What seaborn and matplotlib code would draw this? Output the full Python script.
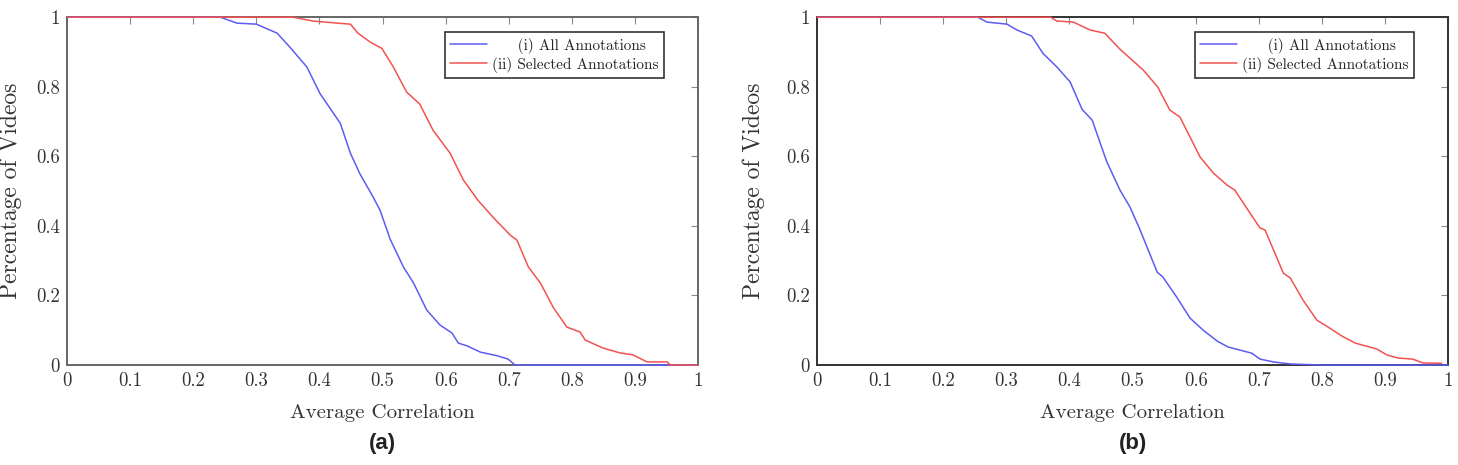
import matplotlib
matplotlib.use("Agg")
import matplotlib.pyplot as plt
import seaborn as sns
import pandas as pd

# curves: (average correlation, fraction of videos)
a_all_x = [0.0, 0.243, 0.269, 0.30, 0.333, 0.353, 0.38, 0.401, 0.433, 0.449, 0.464, 0.485,
           0.496, 0.512, 0.533, 0.549, 0.57, 0.591, 0.61, 0.62, 0.634, 0.655, 0.681, 0.699, 0.71, 1.0]
a_all_y = [1.0, 1.0, 0.983, 0.98, 0.954, 0.914, 0.857, 0.78, 0.695, 0.609, 0.55, 0.483,
           0.445, 0.362, 0.282, 0.236, 0.158, 0.115, 0.092, 0.063, 0.055, 0.037, 0.027, 0.017, 0.0, 0.0]
a_sel_x = [0.0, 0.358, 0.39, 0.428, 0.449, 0.461, 0.48, 0.499, 0.517, 0.538, 0.559, 0.58,
           0.607, 0.628, 0.651, 0.675, 0.702, 0.713, 0.731, 0.75, 0.771, 0.792, 0.813, 0.821,
           0.849, 0.876, 0.897, 0.919, 0.951, 0.956, 1.0]
a_sel_y = [1.0, 1.0, 0.989, 0.983, 0.98, 0.954, 0.929, 0.91, 0.857, 0.785, 0.75, 0.675,
           0.609, 0.532, 0.474, 0.425, 0.374, 0.359, 0.282, 0.236, 0.164, 0.109, 0.095, 0.072,
           0.049, 0.035, 0.029, 0.009, 0.009, 0.0, 0.0]
b_all_x = [0.0, 0.255, 0.269, 0.301, 0.317, 0.34, 0.358, 0.38, 0.401, 0.42, 0.436, 0.459,
           0.48, 0.496, 0.512, 0.539, 0.548, 0.57, 0.591, 0.612, 0.634, 0.651, 0.689, 0.702,
           0.723, 0.75, 0.8, 1.0]
b_all_y = [1.0, 1.0, 0.986, 0.98, 0.963, 0.946, 0.896, 0.857, 0.814, 0.735, 0.704, 0.585,
           0.503, 0.454, 0.388, 0.267, 0.253, 0.195, 0.135, 0.1, 0.069, 0.052, 0.034, 0.017,
           0.009, 0.003, 0.0, 0.0]
b_sel_x = [0.0, 0.37, 0.38, 0.406, 0.433, 0.456, 0.48, 0.517, 0.54, 0.559, 0.575, 0.607,
           0.628, 0.65, 0.662, 0.686, 0.702, 0.71, 0.739, 0.75, 0.77, 0.792, 0.81, 0.832,
           0.853, 0.887, 0.903, 0.921, 0.944, 0.96, 0.99]
b_sel_y = [1.0, 1.0, 0.989, 0.986, 0.963, 0.954, 0.908, 0.848, 0.799, 0.733, 0.713, 0.598,
           0.552, 0.517, 0.503, 0.437, 0.394, 0.388, 0.264, 0.25, 0.187, 0.129, 0.109, 0.083,
           0.063, 0.046, 0.029, 0.02, 0.017, 0.006, 0.005]

series_labels = ["     (i) All Annotations", "(ii) Selected Annotations"]
panel_names = ["(a)", "(b)"]
x_ticks = [0, 0.1, 0.2, 0.3, 0.4, 0.5, 0.6, 0.7, 0.8, 0.9, 1]
x_ticklabels = ["0", "0.1", "0.2", "0.3", "0.4", "0.5", "0.6", "0.7", "0.8", "0.9", "1"]
y_ticks = [0, 0.2, 0.4, 0.6, 0.8, 1]
y_ticklabels = ["0", "0.2", "0.4", "0.6", "0.8", "1"]

sns.set_style("white")
plt.rcParams["font.family"] = ["cmr10", "DejaVu Serif"]
plt.rcParams["axes.formatter.use_mathtext"] = True

fig = plt.figure(figsize=(14.58, 4.65), dpi=100)
axes = [fig.add_axes([0.046, 0.215, 0.4328, 0.748]),
        fig.add_axes([0.5604, 0.215, 0.4328, 0.748])]

panels = [(a_all_x, a_all_y, a_sel_x, a_sel_y), (b_all_x, b_all_y, b_sel_x, b_sel_y)]
ylabel_x = [-0.071, -0.083]
spine_col = ["#666666", "#333333"]
blue = "#5c5cf2"
red = "#f25252"

for i, (ax, (ax_x, ax_y, sx, sy), name) in enumerate(zip(axes, panels, panel_names)):
    d1 = pd.DataFrame({"corr": ax_x, "pct": ax_y})
    d2 = pd.DataFrame({"corr": sx, "pct": sy})
    sns.lineplot(data=d1, x="corr", y="pct", ax=ax, color=blue, lw=1.1,
                 label=series_labels[0], clip_on=False, zorder=3)
    sns.lineplot(data=d2, x="corr", y="pct", ax=ax, color=red, lw=1.1,
                 label=series_labels[1], clip_on=False, zorder=3)
    ax.set_xlim(0, 1)
    ax.set_ylim(0, 1)
    ax.set_xticks(x_ticks)
    ax.set_xticklabels(x_ticklabels)
    ax.set_yticks(y_ticks)
    ax.set_yticklabels(y_ticklabels)
    ax.tick_params(direction="in", length=5, width=0.8, color="#888888",
                   top=True, right=True, labelsize=13.5, pad=5, labelcolor="#333333")
    for s in ax.spines.values():
        s.set_color(spine_col[i])
        s.set_linewidth(1.4)
        s.set_zorder(2)
    ax.set_xlabel("Average Correlation", fontsize=15, labelpad=10, color="#333333")
    ax.set_ylabel("Percentage of Videos", fontsize=17, color="#333333")
    ax.yaxis.set_label_coords(ylabel_x[i], 0.5)
    leg = ax.legend(loc="upper right", bbox_to_anchor=(0.946, 0.957), borderaxespad=0,
                    fontsize=11, frameon=True, fancybox=False, edgecolor="black",
                    handlelength=2.4, handletextpad=0.35, borderpad=0.35, labelspacing=0.2)
    leg.get_frame().set_linewidth(1.2)
    leg.set_zorder(5)
    pos = ax.get_position()
    fig.text(pos.x0 + pos.width / 2, 0.047, name, ha="center", va="center",
             fontsize=16, fontweight="bold", family="Liberation Sans", color="#222222")

fig.savefig("out.png", dpi=100)
